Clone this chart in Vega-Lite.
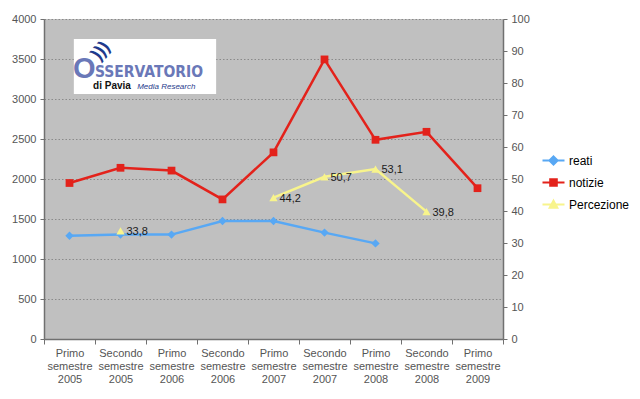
{
  "$schema": "https://vega.github.io/schema/vega-lite/v6.json",
  "width": 459,
  "height": 320,
  "autosize": {"type": "none"},
  "padding": {"left": 44, "top": 19, "right": 137, "bottom": 60},
  "background": "white",
  "config": {
    "view": {"fill": "#C0C0C0", "stroke": null},
    "font": "Liberation Sans",
    "locale": {"number": {"decimal": ",", "thousands": "", "grouping": [3], "currency": ["€", ""]}},
    "axis": {"labelFont": "Liberation Sans", "labelFontSize": 11, "labelColor": "#555555", "domainColor": "#707070", "tickColor": "#707070", "title": null}
  },
  "datasets": {
    "d": [
      {"sem": "Primo semestre 2005", "serie": "reati", "v": 1290},
      {"sem": "Secondo semestre 2005", "serie": "reati", "v": 1305},
      {"sem": "Primo semestre 2006", "serie": "reati", "v": 1305},
      {"sem": "Secondo semestre 2006", "serie": "reati", "v": 1475},
      {"sem": "Primo semestre 2007", "serie": "reati", "v": 1475},
      {"sem": "Secondo semestre 2007", "serie": "reati", "v": 1330},
      {"sem": "Primo semestre 2008", "serie": "reati", "v": 1195},
      {"sem": "Primo semestre 2005", "serie": "notizie", "v": 1950},
      {"sem": "Secondo semestre 2005", "serie": "notizie", "v": 2140},
      {"sem": "Primo semestre 2006", "serie": "notizie", "v": 2105},
      {"sem": "Secondo semestre 2006", "serie": "notizie", "v": 1745},
      {"sem": "Primo semestre 2007", "serie": "notizie", "v": 2333},
      {"sem": "Secondo semestre 2007", "serie": "notizie", "v": 3495},
      {"sem": "Primo semestre 2008", "serie": "notizie", "v": 2490},
      {"sem": "Secondo semestre 2008", "serie": "notizie", "v": 2590},
      {"sem": "Primo semestre 2009", "serie": "notizie", "v": 1885},
      {"sem": "Secondo semestre 2005", "serie": "Percezione", "v": 33.8},
      {"sem": "Primo semestre 2006", "serie": "Percezione", "v": null},
      {"sem": "Secondo semestre 2006", "serie": "Percezione", "v": null},
      {"sem": "Primo semestre 2007", "serie": "Percezione", "v": 44.2},
      {"sem": "Secondo semestre 2007", "serie": "Percezione", "v": 50.7},
      {"sem": "Primo semestre 2008", "serie": "Percezione", "v": 53.1},
      {"sem": "Secondo semestre 2008", "serie": "Percezione", "v": 39.8}
    ]
  },
  "data": {"name": "d"},
  "layer": [
    {
      "data": {"values": [{"name": "logo"}]},
      "layer": [
        {
          "mark": {"type": "rect", "color": "white"},
          "encoding": {
            "x": {"datum": 0.065, "type": "quantitative", "scale": {"domain": [0, 1]}, "axis": null},
            "x2": {"datum": 0.375},
            "y": {"datum": 0.9375, "type": "quantitative", "scale": {"domain": [0, 1]}, "axis": null},
            "y2": {"datum": 0.766}
          }
        },
        {
          "mark": {"type": "text", "text": "O", "font": "Liberation Sans", "fontWeight": "bold", "fontSize": 29, "color": "#6A78B8", "align": "center", "baseline": "alphabetic"},
          "encoding": {
            "x": {"datum": 0.088, "type": "quantitative"},
            "y": {"datum": 0.816, "type": "quantitative"}
          }
        },
        {
          "mark": {"type": "text", "text": "SSERVATORIO", "font": "DejaVu Sans Condensed", "fontWeight": "bold", "fontSize": 15.5, "color": "#6A78B8", "align": "left", "baseline": "alphabetic"},
          "encoding": {
            "x": {"datum": 0.111, "type": "quantitative"},
            "y": {"datum": 0.819, "type": "quantitative"}
          }
        },
        {
          "mark": {"type": "text", "text": ")))", "font": "Liberation Sans", "fontWeight": "bold", "fontSize": 18, "color": "#1F3A8C", "align": "center", "baseline": "middle", "angle": -50},
          "encoding": {
            "x": {"datum": 0.124, "type": "quantitative"},
            "y": {"datum": 0.9, "type": "quantitative"}
          }
        },
        {
          "mark": {"type": "text", "text": "di Pavia", "font": "Liberation Sans", "fontWeight": "bold", "fontSize": 10, "color": "#111111", "align": "left", "baseline": "alphabetic"},
          "encoding": {
            "x": {"datum": 0.107, "type": "quantitative"},
            "y": {"datum": 0.781, "type": "quantitative"}
          }
        },
        {
          "mark": {"type": "text", "text": "Media Research", "font": "Liberation Sans", "fontStyle": "italic", "fontSize": 8, "color": "#1F3A8C", "align": "left", "baseline": "alphabetic"},
          "encoding": {
            "x": {"datum": 0.203, "type": "quantitative"},
            "y": {"datum": 0.781, "type": "quantitative"}
          }
        }
      ]
    },
    {
      "encoding": {
        "x": {
          "field": "sem", "type": "nominal",
          "sort": ["Primo semestre 2005", "Secondo semestre 2005", "Primo semestre 2006", "Secondo semestre 2006", "Primo semestre 2007", "Secondo semestre 2007", "Primo semestre 2008", "Secondo semestre 2008", "Primo semestre 2009"],
          "scale": {"type": "band", "paddingInner": 0, "paddingOuter": 0},
          "axis": {"orient": "bottom", "labelAngle": 0, "labelExpr": "split(datum.label, ' ')", "labelLineHeight": 13, "labelOverlap": false, "labelBound": false, "tickBand": "extent", "tickSize": 5, "labelPadding": 3, "domainWidth": 1.5}
        },
        "y": {
          "field": "v", "type": "quantitative",
          "scale": {"domain": [0, 4000]},
          "axis": {"orient": "left", "values": [0, 500, 1000, 1500, 2000, 2500, 3000, 3500, 4000], "format": "d", "grid": true, "gridColor": "#8A8A8A", "gridDash": [1.5, 2], "gridWidth": 1, "tickSize": 4, "labelPadding": 4, "domainWidth": 1.5}
        }
      },
      "layer": [
        {
          "transform": [{"filter": "datum.serie === 'reati'"}],
          "mark": {"type": "line", "color": "#58A8F4", "strokeWidth": 2.5}
        },
        {
          "transform": [{"filter": "datum.serie === 'reati'"}],
          "mark": {"type": "point", "shape": "diamond", "filled": true, "color": "#58A8F4", "size": 70, "opacity": 1}
        },
        {
          "transform": [{"filter": "datum.serie === 'notizie'"}],
          "mark": {"type": "line", "color": "#E3221B", "strokeWidth": 2.5}
        },
        {
          "transform": [{"filter": "datum.serie === 'notizie'"}],
          "mark": {"type": "point", "shape": "square", "filled": true, "color": "#E3221B", "size": 60, "opacity": 1}
        },
        {
          "mark": {"type": "point", "filled": true, "opacity": 0},
          "encoding": {
            "fill": {"field": "serie", "type": "nominal", "scale": {"domain": ["reati", "notizie", "Percezione"], "range": ["#58A8F4", "#E3221B", "#F8F48C"]},
              "legend": {"title": null, "orient": "none", "legendX": 503, "legendY": 135, "symbolSize": 121, "symbolOpacity": 1, "symbolStrokeWidth": 2, "labelFontSize": 12, "labelColor": "#000000", "labelOffset": 9, "rowPadding": 6, "padding": 0}},
            "stroke": {"field": "serie", "type": "nominal", "scale": {"domain": ["reati", "notizie", "Percezione"], "range": ["#58A8F4", "#E3221B", "#F8F48C"]},
              "legend": {"title": null, "orient": "none", "legendX": 503, "legendY": 135, "symbolSize": 121, "symbolOpacity": 1, "symbolStrokeWidth": 2, "labelFontSize": 12, "labelColor": "#000000", "labelOffset": 9, "rowPadding": 6, "padding": 0}},
            "shape": {"field": "serie", "type": "nominal", "scale": {"domain": ["reati", "notizie", "Percezione"], "range": ["M-2,0H2M0,-0.75L0.75,0L0,0.75L-0.75,0Z", "M-2,0H2M-0.6,-0.6H0.6V0.6H-0.6Z", "M-2,0H2M0,-0.7L0.7,0.6H-0.7Z"]},
              "legend": {"title": null, "orient": "none", "legendX": 503, "legendY": 135, "symbolSize": 121, "symbolOpacity": 1, "symbolStrokeWidth": 2, "labelFontSize": 12, "labelColor": "#000000", "labelOffset": 9, "rowPadding": 6, "padding": 0}}
          }
        }
      ]
    },
    {
      "transform": [{"filter": "datum.serie === 'Percezione'"}],
      "encoding": {
        "x": {
          "field": "sem", "type": "nominal",
          "sort": ["Primo semestre 2005", "Secondo semestre 2005", "Primo semestre 2006", "Secondo semestre 2006", "Primo semestre 2007", "Secondo semestre 2007", "Primo semestre 2008", "Secondo semestre 2008", "Primo semestre 2009"],
          "scale": {"type": "band", "paddingInner": 0, "paddingOuter": 0, "domain": ["Primo semestre 2005", "Secondo semestre 2005", "Primo semestre 2006", "Secondo semestre 2006", "Primo semestre 2007", "Secondo semestre 2007", "Primo semestre 2008", "Secondo semestre 2008", "Primo semestre 2009"]},
          "axis": null
        },
        "y": {
          "field": "v", "type": "quantitative",
          "scale": {"domain": [0, 100]},
          "axis": {"orient": "right", "values": [0, 10, 20, 30, 40, 50, 60, 70, 80, 90, 100], "format": "d", "grid": false, "tickSize": 4, "labelPadding": 4, "domainWidth": 1.5}
        }
      },
      "layer": [
        {
          "mark": {"type": "line", "color": "#F8F48C", "strokeWidth": 2.5, "invalid": "break-paths-show-domains"}
        },
        {
          "transform": [{"filter": "isValid(datum.v)"}],
          "mark": {"type": "point", "shape": "triangle-up", "filled": true, "color": "#F8F48C", "size": 70, "opacity": 1}
        },
        {
          "transform": [{"filter": "isValid(datum.v)"}],
          "mark": {"type": "text", "align": "left", "baseline": "middle", "dx": 6, "dy": 1, "fontSize": 11, "color": "#1A1A1A", "font": "Liberation Sans"},
          "encoding": {"text": {"field": "v", "type": "quantitative", "format": ".1f"}}
        }
      ]
    }
  ],
  "resolve": {"scale": {"x": "independent", "y": "independent"}}
}
